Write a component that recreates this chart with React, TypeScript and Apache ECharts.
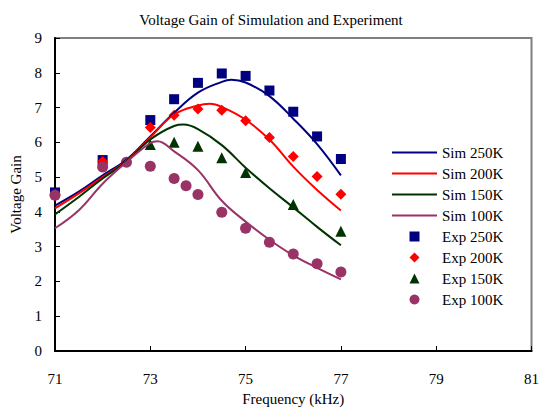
import React, { useEffect, useRef } from "react";
import * as echarts from "echarts";

const FONT = "'Liberation Serif', 'Times New Roman', serif";

const simNames = ["Sim 250K", "Sim 200K", "Sim 150K", "Sim 100K"];
const expNames = ["Exp 250K", "Exp 200K", "Exp 150K", "Exp 100K"];
const colors = ["#000080", "#FF0000", "#003300", "#993366"];

const sim250: [number, number][] = [
  [71, 4.18], [71.5, 4.58], [72, 5.05], [72.5, 5.5], [73, 6.17], [73.5, 6.85],
  [74, 7.43], [74.5, 7.74], [74.7, 7.8], [75, 7.72], [75.5, 7.33], [76, 6.68],
  [76.5, 5.95], [77, 5.05],
];
const sim200: [number, number][] = [
  [71, 4.1], [71.5, 4.53], [72, 5.0], [72.5, 5.47], [73, 6.14], [73.5, 6.8],
  [74, 7.06], [74.25, 7.11], [74.5, 7.02], [75, 6.65], [75.5, 6.08], [76, 5.3],
  [76.5, 4.63], [77, 4.04],
];
const sim150: [number, number][] = [
  [71, 3.93], [71.5, 4.43], [72, 4.96], [72.5, 5.45], [73, 6.08], [73.5, 6.47],
  [73.7, 6.51], [74, 6.38], [74.5, 5.92], [75, 5.27], [75.5, 4.68], [76, 4.13],
  [76.5, 3.57], [77, 3.04],
];
const sim100: [number, number][] = [
  [71, 3.53], [71.5, 4.05], [72, 4.81], [72.5, 5.43], [73, 5.98], [73.15, 6.03],
  [73.5, 5.74], [74, 5.2], [74.5, 4.32], [75, 3.72], [75.5, 3.2], [76, 2.75],
  [76.5, 2.39], [77, 2.06],
];

const exp250: [number, number][] = [
  [71, 4.56], [72, 5.49], [73, 6.64], [73.5, 7.24], [74, 7.71], [74.5, 7.98],
  [75, 7.91], [75.5, 7.49], [76, 6.88], [76.5, 6.17], [77, 5.52],
];
const exp200: [number, number][] = [
  [71, 4.5], [72, 5.45], [73, 6.43], [73.5, 6.78], [74, 6.96], [74.5, 6.92],
  [75, 6.62], [75.5, 6.14], [76, 5.59], [76.5, 5.02], [77, 4.51],
];
const exp150: [number, number][] = [
  [73, 5.94], [73.5, 6.0], [74, 5.89], [74.5, 5.56], [75, 5.13], [76, 4.21],
  [77, 3.44],
];
const exp100: [number, number][] = [
  [71, 4.48], [72, 5.29], [72.5, 5.43], [73, 5.31], [73.5, 4.96], [73.75, 4.75],
  [74, 4.5], [74.5, 3.99], [75, 3.53], [75.5, 3.13], [76, 2.79], [76.5, 2.51],
  [77, 2.27],
];

const simData = [sim250, sim200, sim150, sim100];
const expData = [exp250, exp200, exp150, exp100];
const expSymbols = ["rect", "diamond", "triangle", "circle"];
const expSizes = [10, 11, 11, 11];
const lineIcon = "path://M0,0L45,0L45,2L0,2Z";
const legendIcons = [
  "path://M0,0L10,0L10,10L0,10Z",
  "path://M5,0L10,5L5,10L0,5Z",
  "path://M5,0L10,10L0,10Z",
  "circle",
];

const xTicks = [71, 73, 75, 77, 79, 81];
const yTicks = [0, 1, 2, 3, 4, 5, 6, 7, 8, 9];

export default function App() {
  const ref = useRef<HTMLDivElement>(null);
  useEffect(() => {
    if (!ref.current) return;
    const chart = echarts.init(ref.current, null, { renderer: "svg" });
    const series: any[] = [];
    simNames.forEach((n, i) => {
      series.push({
        name: n,
        type: "line",
        data: simData[i],
        smooth: 0.4,
        symbol: "none",
        lineStyle: { color: colors[i], width: 2 },
        itemStyle: { color: colors[i] },
      });
    });
    expNames.forEach((n, i) => {
      series.push({
        name: n,
        type: "scatter",
        data: expData[i],
        symbol: expSymbols[i],
        symbolSize: expSizes[i],
        itemStyle: { color: colors[i], opacity: 1 },
      });
    });
    chart.setOption({
      animation: false,
      backgroundColor: "#ffffff",
      title: {
        text: "Voltage Gain of Simulation and Experiment",
        left: "center",
        top: 7,
        textStyle: { fontFamily: FONT, fontSize: 15, fontWeight: "normal", color: "#000" },
      },
      grid: {
        left: 55,
        top: 38,
        right: 6,
        bottom: 57,
        show: true,
        borderColor: "#808080",
        borderWidth: 2,
        backgroundColor: "transparent",
      },
      legend: {
        orient: "vertical",
        left: 392,
        top: 145,
        padding: 0,
        itemWidth: 45,
        itemHeight: 10,
        itemGap: 6,
        textStyle: { fontFamily: FONT, fontSize: 15, color: "#000" },
        data: [
          ...simNames.map((n, i) => ({ name: n, icon: lineIcon, itemStyle: { color: colors[i] } })),
          ...expNames.map((n, i) => ({ name: n, icon: legendIcons[i] })),
        ],
      },
      xAxis: {
        type: "value",
        min: xTicks[0],
        max: xTicks[xTicks.length - 1],
        interval: 2,
        name: "Frequency (kHz)",
        nameLocation: "middle",
        nameGap: 40,
        nameTextStyle: { fontFamily: FONT, fontSize: 15, color: "#000" },
        axisLine: { show: true, lineStyle: { color: "#000", width: 2 } },
        axisTick: { show: true, inside: true, length: 5, lineStyle: { color: "#000", width: 1 } },
        axisLabel: { margin: 20, fontFamily: FONT, fontSize: 15, color: "#000" },
        splitLine: { show: false },
      },
      yAxis: {
        type: "value",
        min: yTicks[0],
        max: yTicks[yTicks.length - 1],
        interval: 1,
        name: "Voltage Gain",
        nameLocation: "middle",
        nameGap: 28,
        nameTextStyle: { fontFamily: FONT, fontSize: 15, color: "#000" },
        axisLine: { show: true, lineStyle: { color: "#000", width: 2 } },
        axisTick: { show: true, inside: true, length: 5, lineStyle: { color: "#000", width: 1 } },
        axisLabel: { margin: 13, fontFamily: FONT, fontSize: 15, color: "#000" },
        splitLine: { show: false },
      },
      series,
    });
    return () => chart.dispose();
  }, []);
  return (
    <div
      ref={ref}
      style={{ position: "fixed", left: 0, top: 0, width: 542, height: 411, background: "#fff" }}
    />
  );
}
